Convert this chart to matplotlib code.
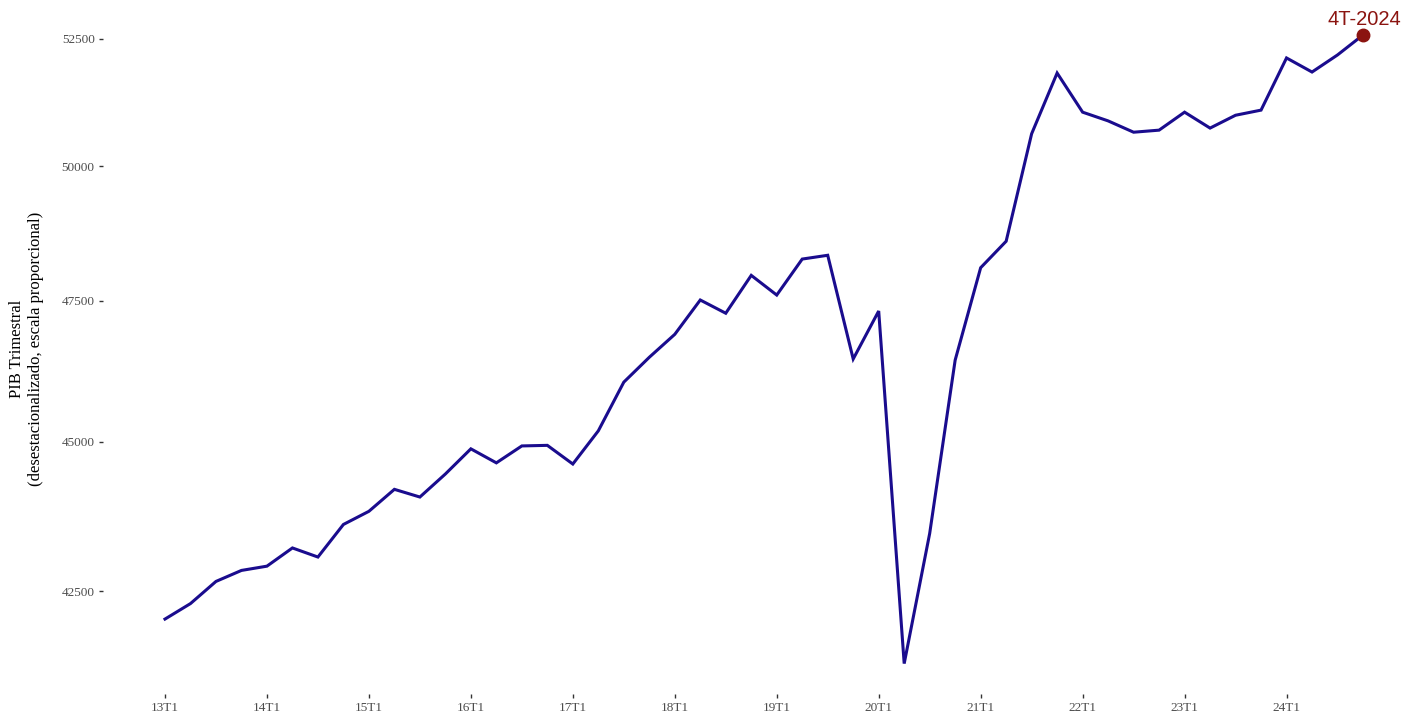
# PIB trimestral desestacionalizado, escala logaritmica

import numpy as np
import matplotlib
matplotlib.use('Agg')
import matplotlib.pyplot as plt

quarters = [f'{y}T{q}' for y in range(13, 25) for q in range(1, 5)]

pib = [42050, 42300, 42660, 42840,
       42910, 43210, 43060, 43600,
       43820, 44190, 44060, 44450,
       44880, 44640, 44930, 44940,
       44620, 45190, 46040, 46480,
       46890, 47510, 47270, 47960,
       47600, 48260, 48330, 46450,
       47310, 41340, 43450, 46430,
       48100, 48590, 50630, 51820,
       51050, 50880, 50660, 50700,
       51050, 50740, 50990, 51090,
       52120, 51840, 52180, 52580]

tick_labels = [q for q in quarters if q.endswith('T1')]
y_ticks = [42500, 45000, 47500, 50000, 52500]
last_label = '4T-2024'

x = np.arange(len(pib))

fig = plt.figure(figsize=(14.02, 7.19), dpi=100)
ax = fig.add_axes([0.0735, 0.0348, 0.9265, 0.9597])

ax.plot(x, pib, color='#1a0c8e', linewidth=2.2, solid_joinstyle='miter')
ax.plot(x[-1], pib[-1], 'o', color='#8b1410', markersize=9)
ax.text(x[-1] + 0.05, pib[-1] * 1.0022, last_label, color='#8b1410', fontsize=14.5,
        family='Liberation Sans', ha='center', va='bottom')

ax.set_yscale('log')
ax.set_ylim(40862, 53208)
ax.set_xlim(-2.43, 48.53)

ax.set_yticks(y_ticks)
ax.set_yticklabels([str(v) for v in y_ticks])
ax.yaxis.set_minor_locator(matplotlib.ticker.NullLocator())
ax.set_xticks([quarters.index(t) for t in tick_labels])
ax.set_xticklabels(tick_labels)

for lab in ax.get_xticklabels() + ax.get_yticklabels():
    lab.set_family('Liberation Serif')
    lab.set_fontsize(9.5)
    lab.set_color('#4d4d4d')
ax.tick_params(length=3, width=1, color='#333333', pad=3)

for s in ax.spines.values():
    s.set_visible(False)

ax.set_ylabel('PIB Trimestral\n(desestacionalizado, escala proporcional)',
              family='Liberation Serif', fontsize=12, labelpad=13)

fig.savefig('out.png', dpi=100)
